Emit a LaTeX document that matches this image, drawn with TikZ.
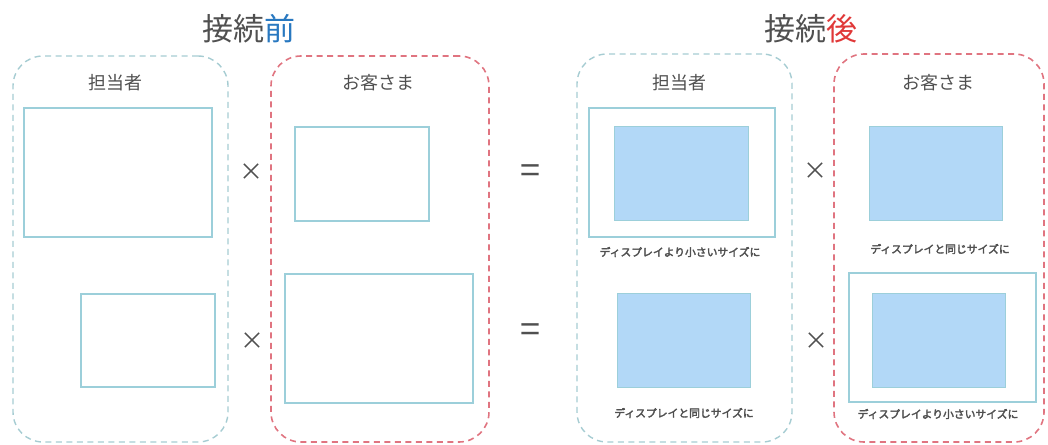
\documentclass[tikz,border=0pt]{standalone}
\usepackage{fontspec}
\newfontfamily\jp{Noto Sans CJK JP}
\newfontfamily\jpb{Noto Sans CJK JP}[FakeBold=3]
\definecolor{txtgray}{HTML}{505050}
\definecolor{titleblue}{HTML}{2878C0}
\definecolor{titlered}{HTML}{E03838}
\definecolor{panelteal}{HTML}{A6CCD2}
\definecolor{panelred}{HTML}{E07480}
\definecolor{boxline}{HTML}{9CCFDA}
\definecolor{boxfill}{HTML}{B2D8F7}
\tikzset{
  panelA/.style={draw=panelteal, line width=1.4pt, dash pattern=on 6pt off 4.5pt, rounded corners=30pt, inner sep=0pt},
  panelB/.style={draw=panelred, line width=1.6pt, dash pattern=on 6pt off 4.5pt, rounded corners=30pt, inner sep=0pt},
  screen/.style={draw=boxline, line width=1.5pt, inner sep=0pt},
  win/.style={draw=boxline, fill=boxfill, line width=1pt, inner sep=0pt},
  title/.style={font=\jp\fontsize{31}{31}\selectfont, text=txtgray, inner sep=0pt},
  who/.style={font=\jp\fontsize{18}{18}\selectfont, text=txtgray, inner sep=0pt},
  note/.style={font=\jpb\fontsize{10.8}{11}\selectfont, text=txtgray, inner sep=0pt},
  op/.style={font=\jp\fontsize{24}{24}\selectfont, text=txtgray, inner sep=0pt},
  eq/.style={font=\jp\fontsize{36}{36}\selectfont, text=txtgray, inner sep=0pt}
}
\begin{document}
\begin{tikzpicture}[x=1pt,y=-1pt]
\useasboundingbox (0,0) rectangle (1048,444);
% titles
\node[title] (t1) at (249,29) {接続\textcolor{titleblue}{前}};
\node[title] (t2) at (811,29) {接続\textcolor{titlered}{後}};
% panels
\node[panelA, minimum width=215pt, minimum height=386pt] (p1) at (120.5,249) {};
\node[panelB, minimum width=218pt, minimum height=386pt] (p2) at (380,249) {};
\node[panelA, minimum width=215pt, minimum height=388pt] (p3) at (684.5,248) {};
\node[panelB, minimum width=210pt, minimum height=388pt] (p4) at (939,248) {};
% panel labels
\node[who] (w1) at (115,83) {担当者};
\node[who] (w2) at (378,83) {お客さま};
\node[who] (w3) at (679,83) {担当者};
\node[who] (w4) at (938,83) {お客さま};
% before: screens
\node[screen, minimum width=188pt, minimum height=129pt] (a1) at (118,172.5) {};
\node[screen, minimum width=134pt, minimum height=93pt] (a2) at (148,340.5) {};
\node[screen, minimum width=134pt, minimum height=94pt] (b1) at (362,174) {};
\node[screen, minimum width=188pt, minimum height=129pt] (b2) at (379,338.5) {};
% operators
\node[op] (x1) at (251,172) {×};
\node[op] (x2) at (252,341) {×};
\node[eq] (e1) at (530,174) {=};
\node[eq] (e2) at (530,333) {=};
\node[op] (x3) at (815,171) {×};
\node[op] (x4) at (816,341) {×};
% after: staff
\node[screen, minimum width=186pt, minimum height=129pt] (c1) at (682,172.5) {};
\node[win, minimum width=134pt, minimum height=94pt] (c1w) at (681,173) {};
\node[note] (n1) at (680,252) {ディスプレイより小さいサイズに};
\node[win, minimum width=133pt, minimum height=94pt] (c2w) at (683.5,340) {};
\node[note] (n2) at (684,413) {ディスプレイと同じサイズに};
% after: customer
\node[win, minimum width=133pt, minimum height=94pt] (d1w) at (935.5,173) {};
\node[note] (n3) at (940,249) {ディスプレイと同じサイズに};
\node[screen, minimum width=187pt, minimum height=129pt] (d2) at (942.5,337.5) {};
\node[win, minimum width=133pt, minimum height=94pt] (d2w) at (938.5,340) {};
\node[note] (n4) at (938,414) {ディスプレイより小さいサイズに};
\end{tikzpicture}
\end{document}
